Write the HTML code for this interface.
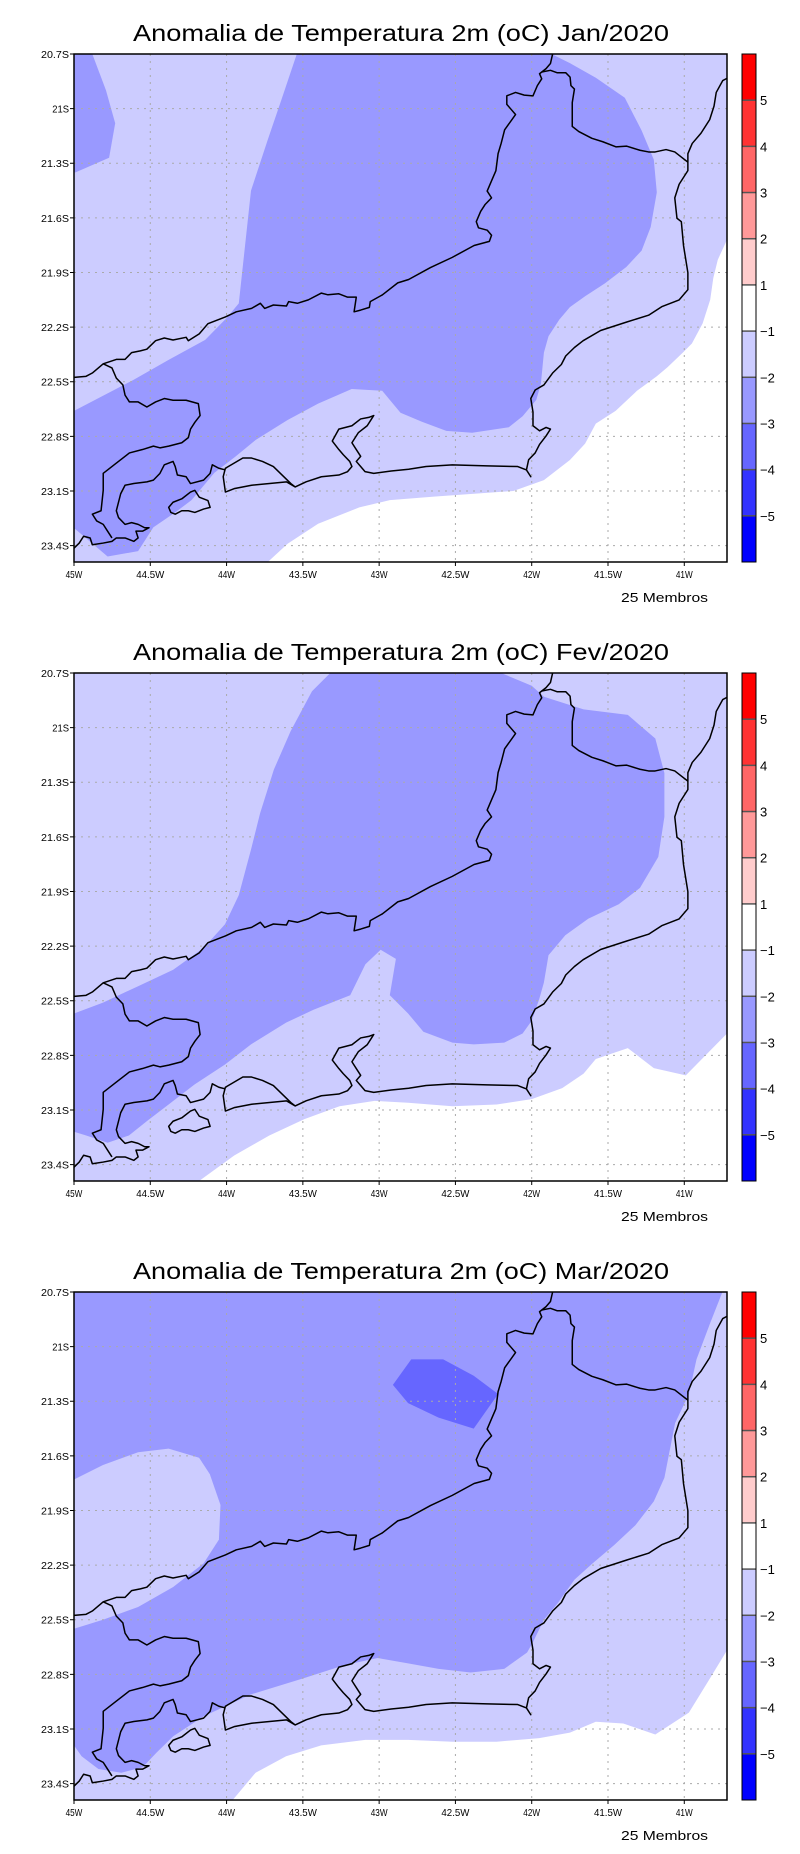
<!DOCTYPE html>
<html><head><meta charset="utf-8"><style>
html,body{margin:0;padding:0;background:#fff;}
svg{display:block;font-family:"Liberation Sans",sans-serif;}
</style></head><body>
<svg id="fig" width="800" height="1854" viewBox="0 0 800 1854" xmlns="http://www.w3.org/2000/svg"></svg>
<script>
// ---------- data (lon W, lat S) ----------
const panelTitles = ["Anomalia de Temperatura 2m (oC) Jan/2020","Anomalia de Temperatura 2m (oC) Fev/2020","Anomalia de Temperatura 2m (oC) Mar/2020"];
const lonTicks = [45,44.5,44,43.5,43,42.5,42,41.5,41];
const lonLabels = ["45W","44.5W","44W","43.5W","43W","42.5W","42W","41.5W","41W"];
const latTicks = [20.7,21,21.3,21.6,21.9,22.2,22.5,22.8,23.1,23.4];
const latLabels = ["20.7S","21S","21.3S","21.6S","21.9S","22.2S","22.5S","22.8S","23.1S","23.4S"];
const cbarLevels = [5,4,3,2,1,-1,-2,-3,-4,-5];
const cbarColors = ["#ff0000","#ff3333","#ff6666","#ff9999","#ffcccc","#ffffff","#ccccff","#9999ff","#6666ff","#3333ff","#0000ff"];

const janDarkA = [[44.88,20.70],[44.79,20.90],[44.73,21.08],[44.77,21.27],[44.99,21.35],[45,21.35],[45,20.70]];
const janDarkB = [[43.54,20.70],[41.87,20.70],[41.75,20.75],[41.58,20.83],[41.39,20.94],[41.28,21.12],[41.20,21.28],[41.18,21.46],[41.22,21.65],[41.28,21.78],[41.38,21.87],[41.52,21.96],[41.65,22.03],[41.75,22.09],[41.82,22.16],[41.89,22.25],[41.92,22.34],[41.94,22.51],[41.97,22.60],[42.06,22.69],[42.15,22.75],[42.39,22.78],[42.56,22.77],[42.72,22.72],[42.86,22.67],[42.91,22.62],[42.98,22.55],[43.18,22.54],[43.40,22.62],[43.60,22.71],[43.81,22.82],[43.94,22.91],[44.08,23.00],[44.23,23.15],[44.34,23.22],[44.48,23.30],[44.58,23.43],[44.78,23.46],[44.99,23.31],[45,23.31],[45,22.66],[44.61,22.49],[44.38,22.38],[44.14,22.27],[44.00,22.15],[43.92,22.07],[43.84,21.45],[43.73,21.17],[43.64,20.95]];
const janWhite = [[43.73,23.49],[43.60,23.39],[43.40,23.28],[43.13,23.19],[42.93,23.15],[42.63,23.13],[42.12,23.10],[41.92,23.04],[41.75,22.93],[41.65,22.84],[41.58,22.73],[41.45,22.66],[41.31,22.55],[41.18,22.47],[41.11,22.42],[41.01,22.34],[40.95,22.29],[40.88,22.18],[40.83,22.05],[40.81,21.93],[40.78,21.83],[40.72,21.72],[40.72,23.49]];

const febDark = [[43.32,20.70],[42.20,20.70],[42.00,20.77],[41.92,20.83],[41.66,20.90],[41.37,20.93],[41.19,21.06],[41.13,21.25],[41.13,21.49],[41.17,21.71],[41.29,21.88],[41.43,21.97],[41.63,22.05],[41.78,22.14],[41.89,22.25],[41.92,22.40],[41.95,22.49],[42.00,22.61],[42.06,22.68],[42.18,22.73],[42.38,22.74],[42.52,22.73],[42.71,22.67],[42.81,22.57],[42.93,22.47],[42.89,22.27],[42.99,22.22],[43.09,22.30],[43.19,22.47],[43.43,22.55],[43.61,22.62],[43.84,22.74],[44.01,22.85],[44.21,22.96],[44.38,23.07],[44.52,23.16],[44.64,23.24],[44.78,23.28],[44.92,23.24],[45,23.22],[45,22.57],[44.81,22.51],[44.58,22.42],[44.35,22.33],[44.15,22.21],[44.01,22.08],[43.92,21.92],[43.84,21.67],[43.78,21.47],[43.69,21.23],[43.58,21.02],[43.44,20.80]];
const febWhite = [[44.18,23.49],[43.95,23.35],[43.72,23.24],[43.49,23.15],[43.26,23.08],[43.03,23.05],[42.81,23.06],[42.52,23.08],[42.23,23.07],[42.00,23.04],[41.80,22.98],[41.66,22.90],[41.58,22.82],[41.37,22.76],[41.20,22.87],[40.99,22.91],[40.72,22.68],[40.72,23.49]];

const marDark = [[45,20.70],[40.75,20.70],[40.83,20.87],[40.92,21.07],[40.97,21.26],[41.06,21.42],[41.10,21.59],[41.13,21.72],[41.20,21.85],[41.32,21.98],[41.46,22.09],[41.60,22.19],[41.72,22.28],[41.83,22.41],[41.92,22.50],[41.99,22.62],[42.03,22.68],[42.18,22.77],[42.40,22.79],[42.61,22.77],[42.81,22.74],[43.01,22.71],[43.23,22.75],[43.49,22.82],[43.84,22.91],[44.15,23.03],[44.35,23.14],[44.46,23.23],[44.55,23.31],[44.69,23.34],[44.84,23.32],[44.95,23.25],[45,23.19]];
const marLight = [[45,21.73],[44.81,21.65],[44.58,21.58],[44.38,21.56],[44.18,21.61],[44.11,21.70],[44.04,21.87],[44.05,22.06],[44.15,22.19],[44.35,22.32],[44.58,22.43],[44.81,22.50],[45,22.55]];
const marDarker = [[42.79,21.07],[42.58,21.07],[42.38,21.16],[42.22,21.26],[42.38,21.45],[42.61,21.39],[42.81,21.31],[42.91,21.21]];
const marWhite = [[43.96,23.49],[43.81,23.34],[43.61,23.25],[43.38,23.19],[43.09,23.16],[42.81,23.16],[42.52,23.17],[42.23,23.17],[41.95,23.15],[41.75,23.12],[41.58,23.06],[41.40,23.07],[41.19,23.13],[40.97,23.01],[40.83,22.82],[40.70,22.64],[40.70,23.49]];

const panelLayers = [
  [{pts:janDarkA,c:"#9999ff",n:"contour-minus3-minus2-nw"},{pts:janDarkB,c:"#9999ff",n:"contour-minus3-minus2"},{pts:janWhite,c:"#ffffff",n:"contour-minus1-plus1"}],
  [{pts:febDark,c:"#9999ff",n:"contour-minus3-minus2"},{pts:febWhite,c:"#ffffff",n:"contour-minus1-plus1"}],
  [{pts:marDark,c:"#9999ff",n:"contour-minus3-minus2"},{pts:marLight,c:"#ccccff",n:"contour-minus2-minus1-west"},{pts:marDarker,c:"#6666ff",n:"contour-minus4-minus3"},{pts:marWhite,c:"#ffffff",n:"contour-minus1-plus1"}]
];

// ---------- layout ----------
const X0=74, X1=727, PH=508, LON0=45, LON1=40.72, LAT0=20.7, LAT1=23.49;
const tops=[54,673,1292];
const NS="http://www.w3.org/2000/svg";
const svg=document.getElementById('fig');
function mk(t,a,p){const e=document.createElementNS(NS,t);for(const k in a)e.setAttribute(k,a[k]);(p||svg).appendChild(e);return e;}
function xs(lon){return X0+(LON0-lon)/(LON0-LON1)*(X1-X0);}
function ys(lat,T){return T+(lat-LAT0)/(LAT1-LAT0)*PH;}

const coast = [
"M33,988 L60,985 75,975 100,948 130,935 150,935 165,915 185,910 200,905 220,880 240,872 260,878 290,870 295,880 320,860 340,830 380,810 405,795 440,785 460,770 470,785 490,775 520,778 525,765 545,770 570,760 600,740 615,745 640,742 660,752 680,752 675,795 690,790 710,782 712,765 740,745 775,710 800,700 850,665 900,635 950,600 985,588 990,570 980,555 960,548 955,530 965,500 975,480 990,460 980,440 990,410 1000,380 1005,330 1012,300 1020,260 1045,215 1035,200 1025,185 1025,160 1045,150 1065,158 1085,160 1095,130 1105,110 1100,95 1115,80 1125,65 1130,37",
"M1105,90 L1125,85 1140,92 1160,92 1170,105 1172,130 1180,140 1175,180 1175,250 1190,265 1220,285 1245,295 1275,310 1300,308 1330,320 1350,325 1365,325 1390,318 1410,325 1425,340 1440,355",
"M1535,105 L1520,115 1505,150 1500,190 1490,230 1470,270 1450,300 1440,330 1440,380 1420,420 1410,460 1415,520 1425,530 1430,600 1440,680 1440,730 1420,760 1380,780 1350,805 1300,825 1240,850 1200,880 1180,900 1160,925 1150,950 1130,975 1110,1010 1090,1025 1080,1050 1085,1090 1085,1130 1100,1145 1115,1135 1125,1140 1115,1160 1100,1185 1090,1210 1075,1230 1070,1260 1080,1280 1070,1260 1050,1250 980,1248 900,1245 840,1250 800,1258 760,1263 720,1270 700,1265 690,1250 680,1235 690,1220 680,1200 670,1180 685,1150 705,1130 715,1110 720,1100 710,1105 690,1110 670,1130 640,1140 625,1175 640,1200 650,1215 665,1235 670,1250 660,1265 640,1275 600,1280 565,1295 540,1310 530,1300 510,1275 490,1250 465,1235 440,1225 420,1225 400,1240 380,1255 375,1280 380,1325 400,1315 440,1305 520,1295 540,1310",
"M380,1260 L365,1255 350,1245 345,1270 330,1290 300,1300 290,1280 270,1275 265,1250 260,1235 240,1245 230,1270 215,1290 200,1295 170,1300 150,1305 140,1330 130,1380 135,1400 150,1420 165,1415 180,1420 195,1430 205,1430 190,1440 175,1440 180,1460 170,1470 150,1460 130,1460 120,1470 100,1475 75,1480 70,1460 55,1455 45,1475 33,1490",
"M100,948 L120,960 130,990 145,1010 150,1040 160,1060 180,1060 200,1075 220,1060 240,1050 260,1055 290,1055 318,1065 322,1100 310,1120 300,1140 295,1165 280,1180 250,1190 230,1195 215,1190 190,1200 160,1210 125,1245 110,1260 100,1270 100,1320 95,1380 75,1390 85,1410 100,1420 110,1440 120,1460",
"M250,1370 L260,1355 280,1345 300,1325 310,1320 320,1340 340,1350 345,1370 330,1375 310,1385 295,1380 280,1380 265,1390 255,1385 Z"
];

tops.forEach((T,pi)=>{
  const g=mk('g',{});
  
  
  const title=mk('text',{x:401,y:T-13,'text-anchor':'middle','font-size':23,textLength:536,lengthAdjust:'spacingAndGlyphs',fill:'#000'},g);
  title.textContent=panelTitles[pi];
  
  
  const clipId='clip'+pi;
  const cp=mk('clipPath',{id:clipId},g); mk('rect',{x:X0,y:T,width:X1-X0,height:PH},cp);
  const plot=mk('g',{'clip-path':'url(#'+clipId+')'},g);
  
  
  const base=mk('rect',{x:X0,y:T,width:X1-X0,height:PH,fill:'#ccccff'},plot);
  
  
  panelLayers[pi].forEach(L=>{
    const p=mk('polygon',{points:L.pts.map(q=>xs(q[0]).toFixed(1)+','+ys(q[1],T).toFixed(1)).join(' '),fill:L.c},plot);
    
    
  });
  // grid
  lonTicks.forEach(l=>{const ln=mk('line',{x1:xs(l),x2:xs(l),y1:T,y2:T+PH,stroke:'#aaa','stroke-width':1,'stroke-dasharray':'2,5'},plot);
    });
  latTicks.forEach(l=>{const ln=mk('line',{x1:X0,x2:X1,y1:ys(l,T),y2:ys(l,T),stroke:'#aaa','stroke-width':1,'stroke-dasharray':'2,5'},plot);
    });
  // coastline
  const cg=mk('g',{transform:'translate('+X0+','+T+') scale(0.4363,0.3401) translate(-33,-37)'},plot);
  
  
  coast.forEach(d=>{mk('path',{d:d,fill:'none',stroke:'#000','stroke-width':1.5,'vector-effect':'non-scaling-stroke','stroke-linejoin':'round'},cg);});
  // frame
  const fr=mk('rect',{x:X0,y:T,width:X1-X0,height:PH,fill:'none',stroke:'#000','stroke-width':1.5},g);
  
  // axis labels
  latTicks.forEach((l,i)=>{const y=ys(l,T);
    mk('line',{x1:X0-4,x2:X0,y1:y,y2:y,stroke:'#000','stroke-width':1},g);
    const t=mk('text',{x:X0-5,y:y+4,'text-anchor':'end','font-size':10.5,textLength:latLabels[i].length*5.6,lengthAdjust:'spacingAndGlyphs'},g);
    t.textContent=latLabels[i];});
  lonTicks.forEach((l,i)=>{const x=xs(l);
    mk('line',{x1:x,x2:x,y1:T+PH,y2:T+PH+4,stroke:'#000','stroke-width':1},g);
    const t=mk('text',{x:x,y:T+PH+16,'text-anchor':'middle','font-size':10.5,textLength:lonLabels[i].length*5.6,lengthAdjust:'spacingAndGlyphs'},g);
    t.textContent=lonLabels[i];});
  const mb=mk('text',{x:621,y:T+548,'font-size':13,textLength:87,lengthAdjust:'spacingAndGlyphs'},g);
  mb.textContent='25 Membros';
  // colorbar
  const cb=mk('g',{},g);
  
  const segH=PH/cbarColors.length;
  cbarColors.forEach((c,i)=>{const r=mk('rect',{x:742,y:T+i*segH,width:14,height:segH,fill:c},cb);
    });
  cbarLevels.forEach((v,i)=>{const y=T+(i+1)*segH;
    mk('line',{x1:742,x2:756,y1:y,y2:y,stroke:'#555','stroke-width':1.5},cb);
    const t=mk('text',{x:760,y:y+5,'font-size':13},cb);
    t.textContent=(v<0?'\u2212':'')+Math.abs(v);});
  mk('rect',{x:742,y:T,width:14,height:PH,fill:'none',stroke:'#000','stroke-width':1},cb);
});
</script>
</body></html>
